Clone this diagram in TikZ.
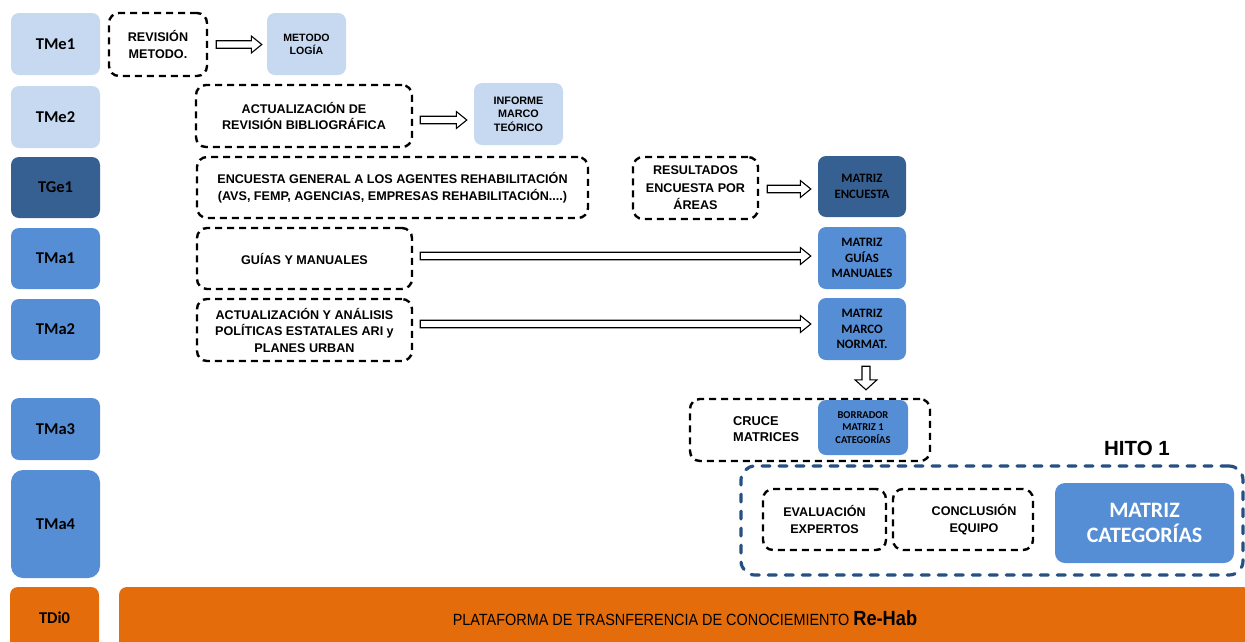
\documentclass[tikz,border=0pt]{standalone}
\usepackage{fontspec}
\setmainfont{Liberation Sans}
\newfontfamily\calfont{Carlito}
\newfontfamily\narrowfont[FakeStretch=0.89]{Liberation Sans}
\usetikzlibrary{calc}
\definecolor{lblue}{HTML}{C6D9F1}
\definecolor{dblue}{HTML}{376092}
\definecolor{mblue}{HTML}{558ED5}
\definecolor{orng}{HTML}{E46C0A}
\definecolor{hblue}{HTML}{264F82}
\newcommand\fs[2]{\fontsize{#1}{#2}\selectfont}
\newcommand\harrow[2]{\draw[hollow] let \p1=(#1), \p2=(#2) in
  (\x1,\y1+3.75pt) -- (\x2-10.5pt,\y1+3.75pt) -- (\x2-10.5pt,\y1+8.5pt) -- (\x2,\y1)
  -- (\x2-10.5pt,\y1-8.5pt) -- (\x2-10.5pt,\y1-3.75pt) -- (\x1,\y1-3.75pt) -- cycle;}
\newcommand\varrow[2]{\draw[hollow] let \p1=(#1), \p2=(#2) in
  (\x1-4pt,\y1) -- (\x1-4pt,\y2+10pt) -- (\x1-11pt,\y2+10pt) -- (\x1,\y2)
  -- (\x1+11pt,\y2+10pt) -- (\x1+4pt,\y2+10pt) -- (\x1+4pt,\y1) -- cycle;}
\begin{document}
\begin{tikzpicture}[x=1pt,y=-1pt,
  hollow/.style={draw=black, fill=white, line width=1.1pt, line join=miter},
  tbox/.style={rounded corners=8pt, inner sep=0pt, align=center, font=\calfont\bfseries\fs{16.5}{19}},
  labL/.style={tbox, fill=lblue, minimum width=89pt, minimum height=62pt},
  labD/.style={tbox, fill=dblue, minimum width=89pt, minimum height=61pt},
  labM/.style={tbox, fill=mblue, minimum width=89pt, minimum height=61pt},
  resbox/.style={rounded corners=8pt, inner sep=0pt, align=center, minimum width=88pt, minimum height=62pt},
  dbox/.style={draw=black, line width=2.4pt, dash pattern=on 7pt off 5pt, rounded corners=10pt,
    inner sep=0pt, align=center, font=\bfseries\fs{12.6}{16.5}},
]
\useasboundingbox (0,0) rectangle (1245,641);
\clip (0,0) rectangle (1245,641);

% left column
\node[labL] (tme1) at (55.5,44) {TMe1};
\node[labL] (tme2) at (55.5,117) {TMe2};
\node[labD] (tge1) at (55.5,187.5) {TGe1};
\node[labM] (tma1) at (55.5,258.5) {TMa1};
\node[labM] (tma2) at (55.5,329.5) {TMa2};
\node[labM, minimum height=62pt] (tma3) at (55.5,429) {TMa3};
\node[labM, minimum height=108pt, rounded corners=12pt] (tma4) at (55.5,524) {TMa4};
\node[tbox, fill=orng, minimum width=89pt, minimum height=62pt] (tdi0) at (54.5,618) {TDi0};

% bottom bar
\node[fill=orng, rounded corners=8pt, minimum width=1132pt, minimum height=62pt, inner sep=0pt,
  font=\narrowfont\fs{16.2}{18}] (plat) at (685,618)
  {PLATAFORMA DE TRASNFERENCIA DE CONOCIEMIENTO {\bfseries\fs{20.5}{22}Re-Hab}};

% row TMe1
\node[dbox, minimum width=98pt, minimum height=63pt] (revm) at (158,44.5) {REVISIÓN\\METODO.};
\node[resbox, fill=lblue, minimum width=79pt, font=\bfseries\fs{10.6}{12.7}] (metod) at (306.5,44) {METODO\\LOGÍA};
\harrow{$(revm.east)+(8,0)$}{$(metod.west)+(-5,0)$}

% row TMe2
\node[dbox, minimum width=216pt, minimum height=62pt] (actrev) at (304,116) {ACTUALIZACIÓN DE\\REVISIÓN BIBLIOGRÁFICA};
\node[resbox, fill=lblue, minimum width=89pt, font=\bfseries\fs{10.8}{13.3}] (inform) at (518.5,114) {INFORME\\MARCO\\TEÓRICO};
\harrow{$(actrev.east)+(7,4)$}{$(inform.west)+(-7,0)$}

% row TGe1
\node[dbox, minimum width=391pt, minimum height=61pt] (encg) at (392.5,187.5)
  {ENCUESTA GENERAL A LOS AGENTES REHABILITACIÓN\\(AVS, FEMP, AGENCIAS, EMPRESAS REHABILITACIÓN....)};
\node[dbox, minimum width=125pt, minimum height=62pt, font=\bfseries\fs{12.6}{17.5}] (resul) at (695.5,188) {RESULTADOS\\ENCUESTA POR\\ÁREAS};
\node[resbox, fill=dblue, minimum height=61pt, font=\calfont\bfseries\fs{12.8}{15.5}] (mence) at (862,186.5) {MATRIZ\\ENCUESTA};
\harrow{$(resul.east)+(8,1)$}{$(mence.west)+(-7,0)$}

% row TMa1
\node[dbox, minimum width=215pt, minimum height=61pt] (guias) at (304.5,258.5) {GUÍAS Y MANUALES};
\node[resbox, fill=mblue, font=\calfont\bfseries\fs{12.8}{15.5}] (mguias) at (862,258) {MATRIZ\\GUÍAS\\MANUALES};
\harrow{$(guias.east)+(7,-2.5)$}{$(mguias.west)+(-7,0)$}

% row TMa2
\node[dbox, minimum width=215pt, minimum height=62pt] (polit) at (304.5,330)
  {ACTUALIZACIÓN Y ANÁLISIS\\POLÍTICAS ESTATALES ARI y\\PLANES URBAN};
\node[resbox, fill=mblue, font=\calfont\bfseries\fs{12.8}{15.5}] (mnorm) at (862,329) {MATRIZ\\MARCO\\NORMAT.};
\harrow{$(polit.east)+(7,-6)$}{$(mnorm.west)+(-7,0)$}

% row TMa3
\node[dbox, minimum width=240pt, minimum height=62pt] (cruce) at (810,430) {};
\node[anchor=west, align=left, inner sep=0pt, font=\bfseries\fs{12.8}{16.5}] (crucet) at (733,429) {CRUCE\\MATRICES};
\node[resbox, fill=mblue, minimum width=90pt, minimum height=55pt, font=\calfont\bfseries\fs{10.5}{12.7}] (borr) at (863,427.5) {BORRADOR\\MATRIZ 1\\CATEGORÍAS};
\varrow{$(mnorm.south)+(4,6)$}{$(borr.north)+(4,-10)$}

% HITO 1
\node[font=\bfseries\fs{20.5}{22}, inner sep=0pt] (hitot) at (1137,448) {HITO 1};
\node[draw=hblue, line width=3.2pt, dash pattern=on 8pt off 9pt, line cap=round, rounded corners=14pt,
  minimum width=502pt, minimum height=109pt, inner sep=0pt] (hito) at (992,520.5) {};
\node[dbox, minimum width=123pt, minimum height=61pt] (eval) at (824.5,519.5) {EVALUACIÓN\\EXPERTOS};
\node[dbox, minimum width=140pt, minimum height=61pt] (concl) at (963,519.5) {\hspace*{22pt}CONCLUSIÓN\\\hspace*{22pt}EQUIPO};
\node[resbox, fill=mblue, text=white, minimum width=179pt, minimum height=80pt, rounded corners=10pt,
  font=\calfont\bfseries\fs{22}{25}] (mcat) at (1144.5,523) {MATRIZ\\CATEGORÍAS};
\end{tikzpicture}
\end{document}
